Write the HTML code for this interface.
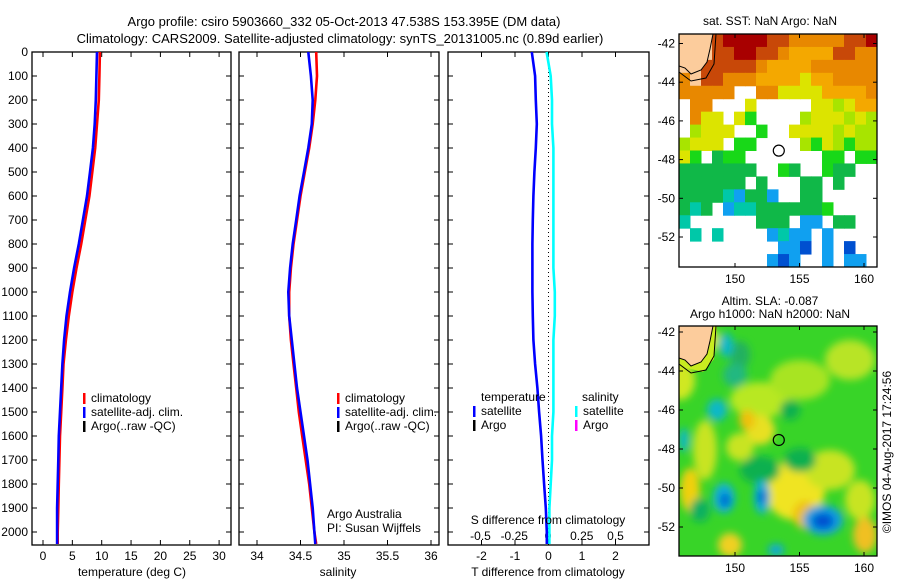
<!DOCTYPE html>
<html><head><meta charset="utf-8">
<style>
body{margin:0;background:#fff;}
svg{display:block;font-family:"Liberation Sans",sans-serif;}
</style></head>
<body>
<svg id="fig" width="900" height="580" viewBox="0 0 900 580" xmlns="http://www.w3.org/2000/svg">
<text x="344" y="26" font-size="13" text-anchor="middle">Argo profile: csiro 5903660_332 05-Oct-2013 47.538S 153.395E (DM data)</text>
<text x="340" y="43" font-size="13" text-anchor="middle">Climatology: CARS2009. Satellite-adjusted climatology: synTS_20131005.nc (0.89d earlier)</text>
<g id="plots"></g>
<text transform="translate(891,452) rotate(-90)" font-size="12" text-anchor="middle">©IMOS 04-Aug-2017 17:24:56</text>
</svg>
<script>
// ---- profile data ----
const depths   = [0, 100, 200, 300, 400, 500, 600, 700, 800, 900, 1000, 1100, 1200, 1300, 1400, 1500, 1600, 1700, 1800, 1900, 2000, 2050];
const tempClim = [9.7, 9.6, 9.5, 9.2, 8.9, 8.4, 7.9, 7.2, 6.5, 5.7, 5.0, 4.4, 3.9, 3.5, 3.3, 3.1, 2.9, 2.8, 2.7, 2.6, 2.5, 2.5];
const tempSat  = [9.2, 9.1, 9.0, 8.8, 8.5, 8.0, 7.5, 6.8, 6.1, 5.3, 4.6, 4.0, 3.6, 3.3, 3.1, 2.9, 2.7, 2.6, 2.5, 2.4, 2.4, 2.4];
const salClim  = [34.68, 34.69, 34.67, 34.64, 34.60, 34.55, 34.50, 34.46, 34.42, 34.39, 34.37, 34.37, 34.39, 34.42, 34.45, 34.48, 34.52, 34.56, 34.60, 34.63, 34.66, 34.68];
const salSat   = [34.59, 34.62, 34.64, 34.63, 34.59, 34.54, 34.49, 34.45, 34.41, 34.38, 34.36, 34.37, 34.40, 34.43, 34.46, 34.50, 34.54, 34.58, 34.61, 34.64, 34.66, 34.67];
const tDiff    = [-0.50, -0.40, -0.38, -0.35, -0.38, -0.42, -0.45, -0.47, -0.48, -0.48, -0.48, -0.47, -0.45, -0.40, -0.33, -0.28, -0.22, -0.18, -0.13, -0.08, -0.05, -0.05];
const sDiff    = [-0.01, 0.02, 0.03, 0.03, 0.04, 0.04, 0.04, 0.04, 0.04, 0.04, 0.05, 0.05, 0.04, 0.04, 0.04, 0.04, 0.03, 0.03, 0.02, 0.01, 0.01, 0.01];
const depthTicks = [0,100,200,300,400,500,600,700,800,900,1000,1100,1200,1300,1400,1500,1600,1700,1800,1900,2000];
const tempTicks = [0,5,10,15,20,25,30];
const salTicks = [34,34.5,35,35.5,36];
const salTickLabels = ["34","34.5","35","35.5","36"];
const tdTicks = [-2,-1,0,1,2];
const sdTicks = [-0.5,-0.25,0,0.25,0.5];
const sdTickLabels = ["-0.5","-0.25","0","0.25","0.5"];
const lonTicks = [150,155,160];
const latTicks = [-42,-44,-46,-48,-50,-52];

const NS="http://www.w3.org/2000/svg";
const root=document.getElementById('plots');
function el(tag,attrs,parent){const e=document.createElementNS(NS,tag);for(const k in attrs)e.setAttribute(k,attrs[k]);(parent||root).appendChild(e);return e;}
function txt(x,y,s,size,anchor,parent){const t=el('text',{x:x,y:y,'font-size':size||12,'text-anchor':anchor||'middle'},parent);t.textContent=s;return t;}

const TOP=52,BOT=545;
const yD=d=>TOP+d*(532-52)/2000;

function panel(name,x0,x1,xmin,xmax){
  const g=el('g',{});
  
  
  el('rect',{x:x0,y:TOP,width:x1-x0,height:BOT-TOP,fill:'none',stroke:'#000','stroke-width':1.3},g);
  depthTicks.forEach(d=>{
    el('line',{x1:x0,x2:x0+5,y1:yD(d),y2:yD(d),stroke:'#000'},g);
    el('line',{x1:x1,x2:x1-5,y1:yD(d),y2:yD(d),stroke:'#000'},g);
  });
  return {g:g,x:v=>x0+(v-xmin)/(xmax-xmin)*(x1-x0)};
}
function ytickLabels(x){
  depthTicks.forEach(d=>{const t=txt(x,yD(d)+4,String(d),12,'end');
  
  });
}
function xticks(p,ticks,labels,y){
  ticks.forEach((v,i)=>{
    el('line',{x1:p.x(v),x2:p.x(v),y1:BOT,y2:BOT-5,stroke:'#000'},p.g);
    el('line',{x1:p.x(v),x2:p.x(v),y1:TOP,y2:TOP+5,stroke:'#000'},p.g);
    const t=txt(p.x(v),y,labels?labels[i]:String(v),12,'middle',p.g);
    
    
  });
}
function line(p,vals,color,name){
  const pts=vals.map((v,i)=>p.x(v).toFixed(1)+','+yD(depths[i]).toFixed(1)).join(' ');
  const l=el('polyline',{points:pts,fill:'none',stroke:color,'stroke-width':2.6},p.g);
  
  
}
function legendItem(g,x,y,color,label,name){
  el('rect',{x:x,y:y-9,width:2.5,height:11,fill:color},g);
  const t=txt(x+8,y,label,12,'start',g);
  
  
}

// panel 1
ytickLabels(28);
const p1=panel('temperature-panel',32,231,(32-43)/5.87,(231-43)/5.87);
xticks(p1,tempTicks,null,560);
line(p1,tempClim,'#f00','temp-climatology-line');
line(p1,tempSat,'#00f','temp-satellite-line');
let t=txt(132,576,'temperature (deg C)',12,'middle',p1.g);


legendItem(p1.g,83,402,'#f00','climatology','legend-climatology');
legendItem(p1.g,83,416,'#00f','satellite-adj. clim.','legend-satellite');
legendItem(p1.g,83,430,'#000','Argo(..raw -QC)','legend-argo');

// panel 2
const p2=panel('salinity-panel',239,439,34+(239-257)/87,34+(439-257)/87);
xticks(p2,salTicks,salTickLabels,560);
line(p2,salClim,'#f00','sal-climatology-line');
line(p2,salSat,'#00f','sal-satellite-line');
t=txt(338,576,'salinity',12,'middle',p2.g);


legendItem(p2.g,337,402,'#f00','climatology','legend-climatology');
legendItem(p2.g,337,416,'#00f','satellite-adj. clim.','legend-satellite');
legendItem(p2.g,337,430,'#000','Argo(..raw -QC)','legend-argo');
t=txt(327,518,'Argo Australia',12,'start',p2.g);


t=txt(327,532,'PI: Susan Wijffels',12,'start',p2.g);



// panel 3
const p3=panel('difference-panel',448,649,-3,3);
const pS={g:p3.g,x:v=>548+v*135};
el('line',{x1:p3.x(0),x2:p3.x(0),y1:TOP,y2:BOT,stroke:'#000','stroke-dasharray':'1,3'},p3.g);
xticks(p3,tdTicks,null,560);
sdTicks.forEach((v,i)=>{
  const tt=txt(pS.x(v),540,sdTickLabels[i],12,'middle',p3.g);
  
  
});
line(pS,sDiff,'#0ff','salinity-diff-satellite-line');
line(p3,tDiff,'#00f','temp-diff-satellite-line');
t=txt(548,524,'S difference from climatology',12,'middle',p3.g);


t=txt(548,576,'T difference from climatology',12,'middle',p3.g);


t=txt(481,401,'temperature',12,'start',p3.g);


t=txt(582,401,'salinity',12,'start',p3.g);


legendItem(p3.g,473,415,'#00f','satellite','legend-temp-satellite');
legendItem(p3.g,473,429,'#000','Argo','legend-temp-argo');
legendItem(p3.g,575,415,'#0ff','satellite','legend-sal-satellite');
legendItem(p3.g,575,429,'#f0f','Argo','legend-sal-argo');

// ---- maps ----
const sstGrid=[
"LLLrRRRRrrooooorrR",
"LLLrrRRrroOOOOrroo",
"LLrrrrroOOOOoooooo",
"oLrroooOOOOyOOoooo",
"ooooo..ooyyyyOOOOo",
".oo...y.....yylyOO",
".oyy.yg....lyyylyl",
".lyyy..g..yyyylyll",
"lyyy.gg....lgylgll",
"yg.Ggg.......gg.gg",
"GGGGGGG..gG..gGG..",
"GGGGGG.G...GG.G...",
"GGGGtbGGb..GG.....",
"GtG.bttGGGGGGg....",
"t......GGG.bb.GG..",
".t.t....btbb.b....",
".........bbB.b.B..",
"........bBb..b.bb."];
const sstColors={L:'#fccc9c',R:'#a80000',r:'#c84808',o:'#e88800',O:'#f4a800',y:'#dce400',l:'#a8e400',g:'#18d818',G:'#10b848',t:'#00c8a8',b:'#10a0f0',B:'#0050d0'};

function mapFrame(name,y0,y1,lat42,lat52,title1,title2){
  const X0=679,X1=877;
  const g=el('g',{});
  
  
  const cid='clip'+y0;
  const cp=el('clipPath',{id:cid},g);
  el('rect',{x:X0,y:y0,width:X1-X0,height:y1-y0},cp);
  const inner=el('g',{'clip-path':'url(#'+cid+')'},g);
  const lx=lon=>735+(lon-150)*12.9;
  const ly=lat=>lat42+(-42-lat)*(lat52-lat42)/10;
  return {g,inner,X0,X1,y0,y1,lx,ly,finish(){
    el('rect',{x:X0,y:y0,width:X1-X0,height:y1-y0,fill:'none',stroke:'#000','stroke-width':1.3},g);
    lonTicks.forEach(v=>{el('line',{x1:lx(v),x2:lx(v),y1:y1,y2:y1-4,stroke:'#000'},g);el('line',{x1:lx(v),x2:lx(v),y1:y0,y2:y0+4,stroke:'#000'},g);
      const tt=txt(lx(v),y1+16,String(v),12,'middle',g);
      
      });
    latTicks.forEach(v=>{el('line',{x1:X0,x2:X0+4,y1:ly(v),y2:ly(v),stroke:'#000'},g);el('line',{x1:X1,x2:X1-4,y1:ly(v),y2:ly(v),stroke:'#000'},g);
      const tt=txt(X0-4,ly(v)+4,String(v),12,'end',g);
      
      });
    const c=el('circle',{cx:lx(153.395),cy:ly(-47.538),r:5.5,fill:'none',stroke:'#000','stroke-width':1.2},g);
    
    
    let a=txt(770,title2?y0-21:y0-9,title1,12,'middle',g);
    
    
    if(title2){a=txt(770,y0-8,title2,12,'middle',g);
      
      }
  }};
}
function land(m){
  el('path',{d:`M${m.X0},${m.y0} L${m.X0+34},${m.y0} L${m.X0+31},${m.y0+15} L${m.X0+28},${m.y0+28} L${m.X0+22},${m.y0+36} L${m.X0+12},${m.y0+40} L${m.X0+6},${m.y0+34} L${m.X0},${m.y0+32} Z`,fill:'#fccc9c',stroke:'#000','stroke-width':1},m.inner);
  el('path',{d:`M${m.X0+37},${m.y0} L${m.X0+35},${m.y0+30} L${m.X0+27},${m.y0+44} L${m.X0+12},${m.y0+47} L${m.X0},${m.y0+38}`,fill:'none',stroke:'#000','stroke-width':1},m.inner);
}
// SST map
const m1=mapFrame('sst-map',34,267,43.5,237,'sat. SST: NaN Argo: NaN');
const cw=(m1.X1-m1.X0)/18, ch=(m1.y1-m1.y0)/18;
sstGrid.forEach((row,r)=>{for(let c=0;c<row.length;c++){const k=row[c];if(k==='.'||!sstColors[k])continue;
  el('rect',{x:m1.X0+c*cw,y:m1.y0+r*ch,width:cw+0.5,height:ch+0.5,fill:sstColors[k]},m1.inner);}});
land(m1);
m1.finish();

// SLA map
const m2=mapFrame('sla-map',326,556,332,527,'Altim. SLA: -0.087','Argo h1000: NaN h2000: NaN');
const defs=el('defs',{});
const f=el('filter',{id:'blur',x:'-50%',y:'-50%',width:'200%',height:'200%'},defs);
el('feGaussianBlur',{stdDeviation:4},f);
el('rect',{x:m2.X0,y:m2.y0,width:198,height:230,fill:'#38d428'},m2.inner);
const bl=el('g',{filter:'url(#blur)'},m2.inner);
[[700,340,20,14,'#c8e820'],[740,355,10,14,'#20b060'],[760,400,30,18,'#b8e820'],[800,380,30,20,'#a8e420'],[850,360,25,20,'#b8e428'],
 [760,430,15,15,'#e8e020'],[705,450,12,30,'#c8e420'],[795,490,30,30,'#f0e420'],[805,515,12,14,'#f0c010'],[690,490,10,22,'#f0d010'],
 [830,470,25,20,'#c8e420'],[860,500,15,20,'#c8e420'],[730,545,12,12,'#f0d020'],[865,535,12,18,'#f0c020'],[740,447,14,14,'#c8e420'],
 [747,420,8,10,'#f0c010'],[735,375,12,12,'#20b880'],[760,470,20,14,'#10b050'],[800,460,16,12,'#10b050'],[700,510,10,12,'#10b060'],[790,410,10,10,'#10b050'],
 [680,380,15,20,'#d0e820']
].forEach(e=>el('ellipse',{cx:e[0],cy:e[1],rx:e[2],ry:e[3],fill:e[4]},bl));
[[724,498,11,15,'#10b0d8'],[725,500,5,7,'#0060d0'],[762,497,8,17,'#10b0d8'],[762,497,4,7,'#0060d0'],[823,520,20,15,'#10a0e0'],[823,521,11,8,'#0050d0'],
 [717,410,10,11,'#10b8c8'],[726,345,7,12,'#10b8c8'],[776,550,8,6,'#10a8d8'],[684,440,5,12,'#10b8c8']
].forEach(e=>el('ellipse',{cx:e[0],cy:e[1],rx:e[2],ry:e[3],fill:e[4]},bl));
el('path',{d:`M${m2.X0},${m2.y0} L${m2.X0+38},${m2.y0} L${m2.X0+35},${m2.y0+33} L${m2.X0+24},${m2.y0+46} L${m2.X0},${m2.y0+40} Z`,fill:'#c8ec20'},m2.inner);
land(m2);
m2.finish();
</script>
</body></html>
